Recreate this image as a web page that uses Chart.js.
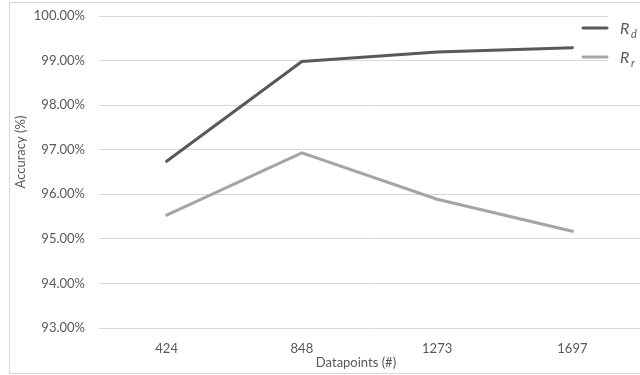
<!DOCTYPE html>
<html>
<head>
<meta charset="utf-8">
<script src="https://cdn.jsdelivr.net/npm/chart.js@4/dist/chart.umd.min.js"></script>
<style>
  html, body { margin: 0; padding: 0; background: #fff; }
  #wrap { width: 640px; height: 375px; }
</style>
</head>
<body>
<div id="wrap"><canvas id="accChart" width="640" height="375"></canvas></div>
<script>
// Data
const datapoints = ['424', '848', '1273', '1697'];
const rdValues = [96.74, 98.98, 99.19, 99.29];
const rrValues = [95.53, 96.93, 95.89, 95.17];
const yMin = 93;
const yMax = 100;
const xTitle = 'Datapoints (#)';
const yTitle = 'Accuracy (%)';

const textColor = '#595959';
const gridColor = '#d9d9d9';
const rdColor = '#595959';
const rrColor = '#a5a5a5';
const fontFamily = 'Lato';

// Frame, axis titles and the Excel-style legend at the top right
const frameAndLegend = {
    id: 'frameAndLegend',
    afterDraw(chart) {
        const ctx = chart.ctx;
        ctx.save();

        // outer frame
        ctx.strokeStyle = gridColor;
        ctx.lineWidth = 1;
        ctx.strokeRect(9.5, 2.5, 700, 371);

        // axis titles (Excel centres them on the chart area, not the plot)
        ctx.fillStyle = textColor;
        ctx.font = '13px ' + fontFamily;
        ctx.textAlign = 'center';
        ctx.textBaseline = 'middle';
        ctx.fillText(xTitle, 356, 363);
        ctx.save();
        ctx.translate(21, 152);
        ctx.rotate(-Math.PI / 2);
        ctx.fillText(yTitle, 0, 0);
        ctx.restore();

        // legend background hides the gridlines under it
        ctx.fillStyle = '#fff';
        ctx.fillRect(608, 6, 32, 74);

        const items = [
            { color: rdColor, sub: 'd', y: 28 },
            { color: rrColor, sub: 'r', y: 57 }
        ];
        items.forEach(item => {
            ctx.strokeStyle = item.color;
            ctx.lineWidth = 3;
            ctx.lineCap = 'round';
            ctx.beginPath();
            ctx.moveTo(583, item.y);
            ctx.lineTo(607, item.y);
            ctx.stroke();

            ctx.fillStyle = textColor;
            ctx.textBaseline = 'alphabetic';
            ctx.textAlign = 'left';
            ctx.font = 'italic 16px ' + fontFamily;
            ctx.fillText('R', 620, item.y + 6);
            ctx.font = 'italic 11px ' + fontFamily;
            ctx.fillText(item.sub, 631, item.y + 10);
        });
        ctx.restore();
    }
};

const ctx = document.getElementById('accChart').getContext('2d');
const accChart = new Chart(ctx, {
    type: 'line',
    data: {
        labels: datapoints,
        datasets: [
            {
                label: 'Rd',
                data: rdValues,
                borderColor: rdColor,
                borderWidth: 3,
                pointRadius: 0,
                borderCapStyle: 'round',
                tension: 0,
                fill: false
            },
            {
                label: 'Rr',
                data: rrValues,
                borderColor: rrColor,
                borderWidth: 3,
                pointRadius: 0,
                borderCapStyle: 'round',
                tension: 0,
                fill: false
            }
        ]
    },
    options: {
        responsive: false,
        animation: false,
        layout: { padding: { top: 16, left: 0, right: 0, bottom: 0 } },
        plugins: {
            legend: { display: false },
            tooltip: { enabled: false }
        },
        scales: {
            x: {
                offset: true,
                grid: { display: false, drawTicks: false },
                border: { display: false },
                ticks: {
                    color: textColor,
                    font: { family: fontFamily, size: 13 },
                    padding: 13,
                    maxRotation: 0
                },
                afterFit(scale) {
                    scale.height = 47;
                    scale.paddingLeft = 0;
                    scale.paddingRight = 0;
                }
            },
            y: {
                min: yMin,
                max: yMax,
                grid: { color: gridColor, lineWidth: 1, drawTicks: false },
                border: { display: false },
                ticks: {
                    stepSize: 1,
                    color: textColor,
                    font: { family: fontFamily, size: 13 },
                    padding: 14,
                    callback: value => value.toFixed(2) + '%'
                },
                afterFit(scale) {
                    scale.width = 99;
                    scale.paddingTop = 0;
                    scale.paddingBottom = 0;
                }
            }
        }
    },
    plugins: [frameAndLegend]
});
</script>
</body>
</html>
